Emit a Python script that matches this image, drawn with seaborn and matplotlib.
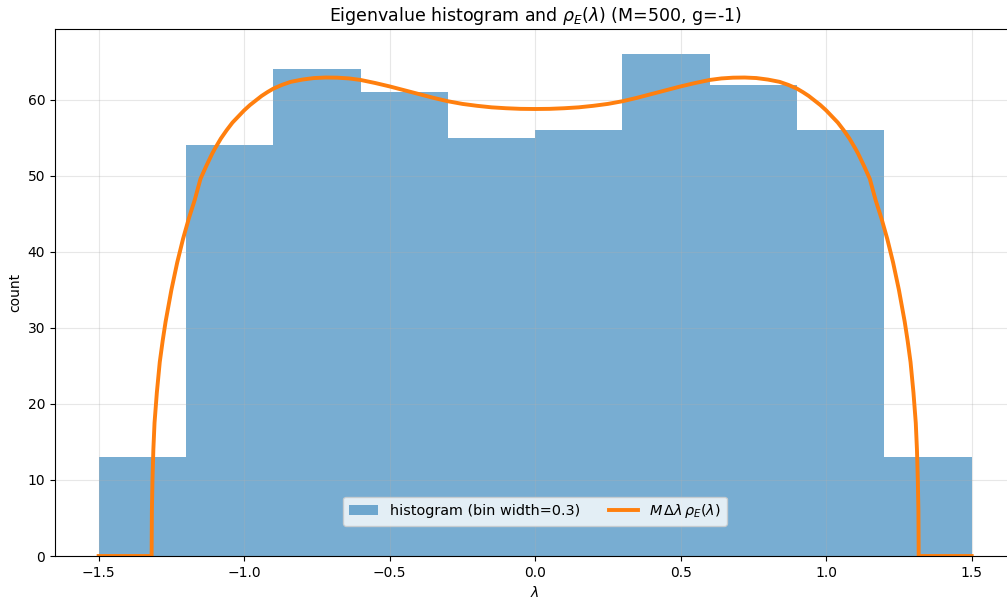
import matplotlib
matplotlib.use("Agg")
import matplotlib.pyplot as plt
import seaborn as sns

# Histogram data (bin width 0.3)
bin_edges = [-1.5, -1.2, -0.9, -0.6, -0.3, 0.0, 0.3, 0.6, 0.9, 1.2, 1.5]
counts = [13, 54, 64, 61, 55, 56, 66, 62, 56, 13]

# Curve M * dlambda * rho_E(lambda)
curve_lam = [-1.5, -1.318, -1.317, -1.315, -1.312, -1.308, -1.30, -1.29, -1.28,
             -1.27, -1.25, -1.23, -1.21, -1.19, -1.17, -1.15, -1.13, -1.11,
             -1.10, -1.08, -1.06, -1.04, -1.02, -1.00, -0.98, -0.96, -0.94,
             -0.92, -0.90, -0.87, -0.84, -0.80, -0.76, -0.72, -0.68, -0.64,
             -0.60, -0.55, -0.50, -0.45, -0.40, -0.35, -0.30, -0.25, -0.20,
             -0.15, -0.10, -0.05, 0.00, 0.05, 0.10, 0.15, 0.20, 0.25, 0.30,
             0.35, 0.40, 0.45, 0.50, 0.55, 0.60, 0.64, 0.68, 0.72, 0.76, 0.80,
             0.84, 0.87, 0.90, 0.92, 0.94, 0.96, 0.98, 1.00, 1.02, 1.04, 1.06,
             1.08, 1.10, 1.11, 1.13, 1.15, 1.17, 1.19, 1.21, 1.23, 1.25, 1.27,
             1.28, 1.29, 1.30, 1.308, 1.312, 1.315, 1.317, 1.318, 1.5]
curve_val = [0, 0, 6, 10, 14, 17.5, 21.5, 25.5, 28.3,
             30.8, 35, 38.6, 41.7, 44.4, 46.8, 49.6, 51.3, 52.9,
             53.6, 54.9, 56.0, 57.0, 57.8, 58.6, 59.3, 59.9, 60.5,
             61.0, 61.45, 61.95, 62.35, 62.65, 62.85, 62.92, 62.9, 62.8,
             62.6, 62.2, 61.75, 61.25, 60.75, 60.25, 59.8, 59.45, 59.2,
             59.0, 58.88, 58.8, 58.78, 58.8, 58.88, 59.0, 59.2, 59.45, 59.8,
             60.25, 60.75, 61.25, 61.75, 62.2, 62.6, 62.8, 62.9, 62.92, 62.85, 62.65,
             62.35, 61.95, 61.45, 61.0, 60.5, 59.9, 59.3, 58.6, 57.8, 57.0, 56.0,
             54.9, 53.6, 52.9, 51.3, 49.6, 46.8, 44.4, 41.7, 38.6, 35, 30.8,
             28.3, 25.5, 21.5, 17.5, 14, 10, 6, 0, 0]

title = r"Eigenvalue histogram and $\rho_E(\lambda)$ (M=500, g=-1)"
hist_label = "histogram (bin width=0.3)"
curve_label = r"$M\,\Delta\lambda\,\rho_E(\lambda)$"

centers = [(a + b) / 2 for a, b in zip(bin_edges[:-1], bin_edges[1:])]

fig = plt.figure(figsize=(10.07, 5.97), dpi=100)
ax = fig.add_axes([55 / 1007, 41 / 597, 960.3 / 1007, 527 / 597])

sns.histplot(x=centers, weights=counts, bins=bin_edges, color="tab:blue",
             alpha=0.6, linewidth=0, label=hist_label, ax=ax)
sns.lineplot(x=curve_lam, y=curve_val, color="tab:orange", linewidth=2.8,
             label=curve_label, ax=ax, sort=False)

ax.set_xlim(-1.65, 1.65)
ax.set_ylim(0, 69.3)
ax.set_title(title, fontsize=12.5)
ax.set_xlabel(r"$\lambda$")
ax.set_ylabel("count")
ax.grid(True, alpha=0.3)

handles, labels = ax.get_legend_handles_labels()
order = [labels.index(hist_label), labels.index(curve_label)]
ax.legend([handles[i] for i in order], [labels[i] for i in order],
          loc="lower center", bbox_to_anchor=(0.5, 0.043), ncol=2,
          fontsize=10.4)

fig.savefig("out.png", dpi=100)
